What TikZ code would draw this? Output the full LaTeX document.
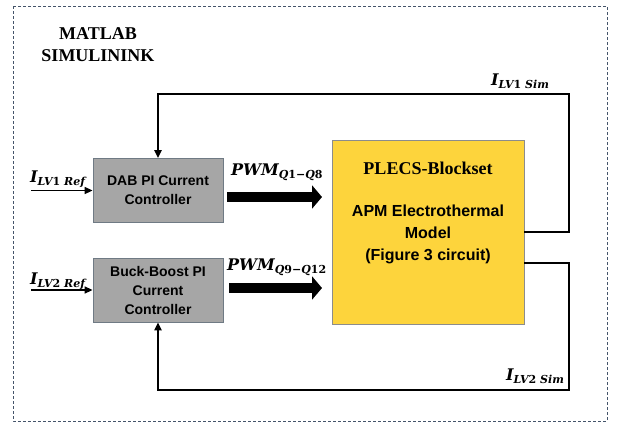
\documentclass[tikz,border=0pt]{standalone}
\usepackage{fontspec}
\usetikzlibrary{arrows.meta}
\newfontfamily\serifb{Liberation Serif}
\newfontfamily\sansb{Liberation Sans}
\newfontfamily\mathlike{DejaVu Serif}
\newcommand{\lbl}[3]{{\mathlike\bfseries\itshape\fontsize{#3}{#3}\selectfont #1}\raisebox{-0.3em}{\mathlike\bfseries\fontsize{11}{11}\selectfont #2}}
\definecolor{boxgray}{HTML}{A6A6A6}
\definecolor{boxedge}{HTML}{6F7A84}
\definecolor{plantfill}{HTML}{FDD43C}
\definecolor{plantedge}{HTML}{8C8C8C}
\definecolor{frameblue}{HTML}{44546A}
\tikzset{
  ctrl/.style={draw=boxedge, fill=boxgray, line width=0.8pt, minimum width=130pt,
    minimum height=64pt, align=center, inner sep=0pt,
    font=\sansb\bfseries\fontsize{14}{19}\selectfont},
  plant/.style={draw=plantedge, fill=plantfill, line width=0.8pt, minimum width=192pt,
    minimum height=184pt, inner sep=0pt},
  fb/.style={line width=2pt, -{Triangle[length=8pt,width=7pt]}},
  inarrow/.style={line width=1.5pt, -{Triangle[length=8pt,width=7pt]}},
  bigarrow/.style={line width=10pt, -{Triangle[length=10pt,width=23pt]}},
  mlabel/.style={anchor=base west, inner sep=0pt},
  serifttl/.style={align=center, inner sep=0pt, font=\serifb\bfseries\fontsize{18}{22}\selectfont},
  planttxt/.style={align=center, inner sep=0pt, font=\sansb\bfseries\fontsize{16}{22}\selectfont}
}
\begin{document}
\begin{tikzpicture}[x=1pt,y=-1pt]
\useasboundingbox (0,0) rectangle (622,424);
\fill[white] (0,0) rectangle (622,424);
\draw[frameblue, line width=0.8pt, dash pattern=on 3pt off 2pt] (13,6) rectangle (607,421);

\node[serifttl] (title) at (98,45) {MATLAB\\SIMULININK};

\node[ctrl] (dab) at (158,190.5) {DAB PI Current\\Controller};
\node[ctrl] (bb) at (158,290) {Buck-Boost PI\\Current\\Controller};
\node[plant] (apm) at (428,232) {};
\node[serifttl] (plecs) at (428,168) {PLECS-Blockset};
\node[planttxt] (apmtxt) at (428,234) {APM Electrothermal\\Model\\(Figure 3 circuit)};

% inputs
\coordinate (in1) at (31,190.5);
\coordinate (in2) at (31,290);
\draw[inarrow] (in1) -- (dab.west);
\draw[inarrow] (in2) -- (bb.west);
\node[mlabel] (lref1) at (30,182) {\lbl{I}{\itshape LV\upshape 1 \itshape Ref}{16}};
\node[mlabel] (lref2) at (30,284) {\lbl{I}{\itshape LV\upshape 2 \itshape Ref}{16}};

% PWM arrows
\coordinate (p1s) at (227,197);
\coordinate (p1e) at (322,197);
\coordinate (p2s) at (229,288);
\coordinate (p2e) at (322,288);
\draw[bigarrow] (p1s) -- (p1e);
\draw[bigarrow] (p2s) -- (p2e);
\node[mlabel] (pwm1) at (231,175) {\lbl{PWM}{\itshape Q\upshape 1−\itshape Q\upshape 8}{16}};
\node[mlabel] (pwm2) at (227,270) {\lbl{PWM}{\itshape Q\upshape 9−\itshape Q\upshape 12}{16}};

% feedback
\coordinate (tr) at (569,94);
\coordinate (o2) at (524,263);
\coordinate (br) at (569,390);
\draw[fb] (apm.east) -| (tr) -| (dab.north);
\draw[fb] (o2) -| (br) -| (bb.south);
\node[mlabel] (sim1) at (491,85) {\lbl{I}{\itshape LV\upshape 1 \itshape Sim}{16}};
\node[mlabel] (sim2) at (506,380) {\lbl{I}{\itshape LV\upshape 2 \itshape Sim}{16}};
\end{tikzpicture}
\end{document}
